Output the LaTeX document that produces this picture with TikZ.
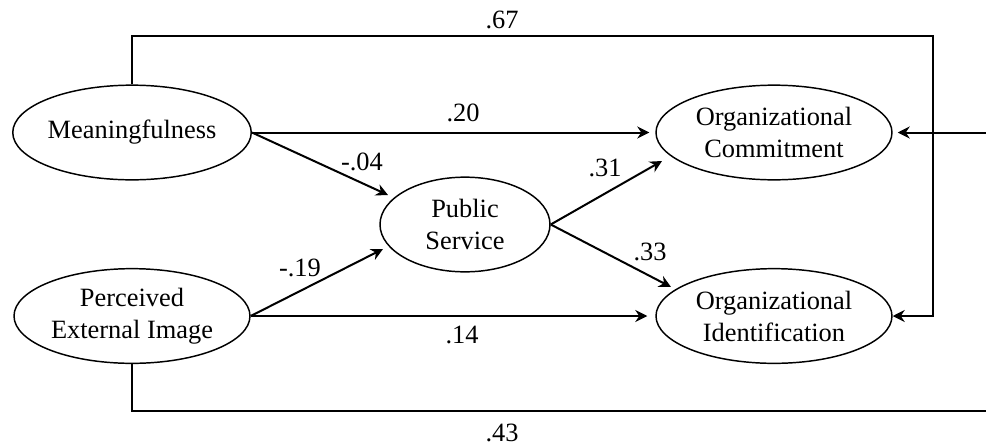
\documentclass[tikz,border=0pt]{standalone}
\usepackage{fontspec}
\setmainfont{Liberation Serif}
\usetikzlibrary{arrows.meta,shapes.geometric,calc}
\begin{document}
\begin{tikzpicture}[x=0.75pt,y=-0.75pt,
  latent/.style={draw,ellipse,line width=1.1pt,minimum width=177pt,minimum height=71pt,inner sep=0pt,align=center,font=\fontsize{19.8}{24}\selectfont},
  pathw/.style={line width=1.5pt},
  arr/.style={pathw,-{Stealth[length=9pt,width=9pt,inset=3pt]}},
  coef/.style={font=\fontsize{19.8}{24}\selectfont,inner sep=0pt}]
\useasboundingbox (0,0) rectangle (986,447);
% latent variables
\node[latent] (M) at (132,132.5) {Meaningfulness};
\node[latent] (P) at (132,316) {Perceived\\External Image};
\node[latent,minimum width=127.5pt] (S) at (465,224.5) {Public\\Service};
\node[latent] (C) at (774,132.5) {Organizational\\Commitment};
\node[latent] (I) at (774,316) {Organizational\\Identification};
% helper coordinates
\coordinate (c1) at (933,36);
\coordinate (c2) at (986,411);
\coordinate (c3) at (986,132.5);
% paths
\draw[arr] (M.east) -- ($(C.west)+(-6,0)$);
\draw[arr] (M.east) -- ($(S.center)+(-77,-29.5)$);
\draw[arr] (P.east) -- ($(S.center)+(-82,24.5)$);
\draw[arr] (P.east) -- ($(I.west)+(-8,0)$);
\draw[arr] (S.east) -- ($(C.center)+(-112,28.5)$);
\draw[arr] (S.east) -- ($(I.center)+(-103,-29)$);
\draw[arr] (M.north) |- (c1) |- (I.east);
\draw[pathw] (P.south) |- (c2);
\draw[arr] (c3) -- ($(C.east)+(5,0)$);
% coefficients
\node[coef] (k67) at (502,20) {.67};
\node[coef] (k20) at (463,113) {.20};
\node[coef] (k04) at (362,162) {-.04};
\node[coef] (k31) at (605,168) {.31};
\node[coef] (k19) at (300,268) {-.19};
\node[coef] (k33) at (650,252) {.33};
\node[coef] (k14) at (462,335) {.14};
\node[coef] (k43) at (502,433) {.43};
\end{tikzpicture}
\end{document}
